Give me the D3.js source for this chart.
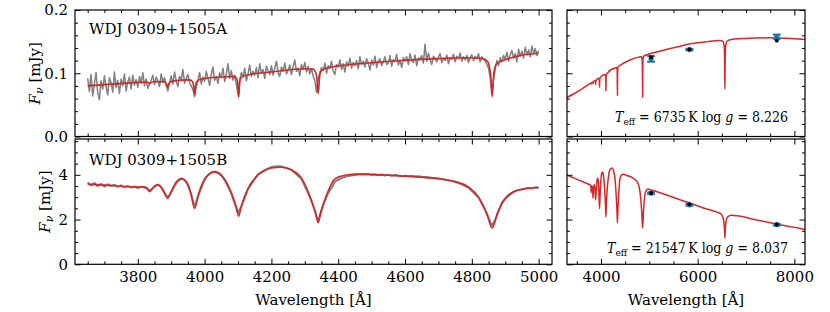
<!DOCTYPE html>
<html>
<head>
<meta charset="utf-8">
<script src="https://cdn.jsdelivr.net/npm/d3@7"></script>
<style>
  body { margin: 0; background: #fff; }
  svg, text { font-family: "DejaVu Serif", "Liberation Serif", "Noto Serif", serif; }
  text.cond { font-family: "DejaVu Serif Condensed", "DejaVu Serif", serif; }
</style>
</head>
<body>
<div id="wrapper"></div>
<script>
// ---- data ----

// observed spectrum A, 3650..5000 A in 5 A steps (mJy)
const waveStartA = 3650, waveStepA = 5
const fluxA = [
  0.092, 0.071, 0.098, 0.064, 0.083, 0.101, 0.069, 0.058, 0.088, 0.075,
  0.096, 0.079, 0.066, 0.093, 0.085, 0.070, 0.102, 0.077, 0.089, 0.068,
  0.091, 0.080, 0.099, 0.072, 0.086, 0.094, 0.075, 0.097, 0.081, 0.090,
  0.078, 0.095, 0.084, 0.101, 0.080, 0.091, 0.076, 0.083, 0.089, 0.097,
  0.082, 0.094, 0.088, 0.079, 0.099, 0.086, 0.093, 0.081, 0.072, 0.085,
  0.096, 0.083, 0.102, 0.087, 0.079, 0.095, 0.090, 0.106, 0.084, 0.092,
  0.098, 0.085, 0.080, 0.074, 0.063, 0.078, 0.088, 0.101, 0.083, 0.094,
  0.087, 0.103, 0.092, 0.081, 0.098, 0.110, 0.089, 0.095, 0.084, 0.101,
  0.093, 0.108, 0.087, 0.099, 0.115, 0.092, 0.104, 0.089, 0.097, 0.082,
  0.066, 0.090, 0.101, 0.094, 0.108, 0.088, 0.099, 0.113, 0.095, 0.103,
  0.097, 0.109, 0.093, 0.115, 0.100, 0.106, 0.092, 0.111, 0.104, 0.098,
  0.112, 0.097, 0.108, 0.119, 0.101, 0.095, 0.110, 0.103, 0.116, 0.099,
  0.105, 0.113, 0.098, 0.110, 0.121, 0.103, 0.108, 0.096, 0.114, 0.106,
  0.117, 0.102, 0.111, 0.099, 0.107, 0.096, 0.088, 0.070, 0.092, 0.101,
  0.109, 0.104, 0.116, 0.100, 0.112, 0.107, 0.119, 0.103, 0.098, 0.114,
  0.110, 0.121, 0.106, 0.115, 0.102, 0.118, 0.111, 0.124, 0.108, 0.117,
  0.112, 0.120, 0.107, 0.126, 0.114, 0.119, 0.110, 0.123, 0.116, 0.105,
  0.121, 0.113, 0.127, 0.109, 0.119, 0.123, 0.112, 0.118, 0.126, 0.114,
  0.116, 0.128, 0.111, 0.122, 0.118, 0.130, 0.113, 0.121, 0.109, 0.125,
  0.119, 0.126, 0.114, 0.131, 0.120, 0.117, 0.129, 0.112, 0.124, 0.122,
  0.128, 0.116, 0.146, 0.119, 0.132, 0.121, 0.114, 0.127, 0.123, 0.118,
  0.126, 0.131, 0.117, 0.124, 0.120, 0.129, 0.115, 0.125, 0.122, 0.130,
  0.118, 0.127, 0.123, 0.132, 0.119, 0.126, 0.121, 0.128, 0.117, 0.125,
  0.129, 0.120, 0.127, 0.123, 0.131, 0.118, 0.126, 0.122, 0.119, 0.114,
  0.108, 0.092, 0.066, 0.089, 0.107, 0.120, 0.112, 0.125, 0.118, 0.128,
  0.122, 0.133, 0.119, 0.129, 0.136, 0.124, 0.131, 0.118, 0.138, 0.127,
  0.135, 0.124, 0.141, 0.129, 0.137, 0.126, 0.143, 0.131, 0.139, 0.128,
  0.136
]

// observed spectrum B, 3650..5000 A in 10 A steps (mJy)
const waveStartB = 3650, waveStepB = 10
const fluxB = [
  3.66, 3.52, 3.63, 3.49, 3.60,
  3.47, 3.58, 3.50, 3.56, 3.46, 3.53, 3.44, 3.50, 3.43, 3.48,
  3.41, 3.47, 3.43, 3.36, 3.30, 3.48, 3.57, 3.44, 3.18, 3.00,
  3.22, 3.50, 3.71, 3.84, 3.77, 3.55, 3.13, 2.55, 3.02, 3.41,
  3.78, 3.98, 4.10, 4.15, 4.08, 3.97, 3.77, 3.47, 3.16, 2.72,
  2.30, 2.58, 2.97, 3.36, 3.58, 3.80, 4.02, 4.10, 4.19, 4.28,
  4.35, 4.37, 4.38, 4.37, 4.33, 4.28, 4.22, 4.09, 3.95, 3.82,
  3.50, 3.18, 2.82, 2.40, 1.92, 2.40, 2.83, 3.18, 3.42, 3.70,
  3.78, 3.85, 3.91, 3.94, 3.97, 3.99, 4.01, 4.03, 4.02, 4.04,
  4.00, 4.02, 3.98, 4.01, 3.97, 4.00, 3.96, 3.99, 3.97, 3.93,
  3.96, 3.94, 3.95, 3.92, 3.93, 3.91, 3.90, 3.89, 3.87, 3.86,
  3.84, 3.81, 3.78, 3.74, 3.72, 3.68, 3.63, 3.57, 3.50, 3.43,
  3.28, 3.13, 2.99, 2.71, 2.42, 2.08, 1.72, 1.98, 2.38, 2.76,
  2.93, 3.05, 3.18, 3.27, 3.32, 3.34, 3.39, 3.41, 3.39, 3.44,
  3.42
]

// best-fit model spectra [wavelength, flux]
const modelA = [
  [3650,0.0800],[3700,0.0820],[3750,0.0838],[3800,0.0855],[3825,0.0860],[3831,0.0852],
  [3835,0.0835],[3839,0.0852],[3848,0.0865],[3875,0.0868],[3883,0.0850],[3886,0.0825],
  [3889,0.0780],[3892,0.0825],[3896,0.0855],[3910,0.0880],[3955,0.0895],[3964,0.0865],
  [3967,0.0800],[3970,0.0660],[3973,0.0800],[3976,0.0865],[3990,0.0910],[4050,0.0940],
  [4090,0.0950],[4096,0.0915],[4099,0.0840],[4102,0.0620],[4105,0.0840],[4108,0.0920],
  [4120,0.0965],[4200,0.1020],[4300,0.1070],[4325,0.1065],[4332,0.1020],[4336,0.0930],
  [4340,0.0675],[4344,0.0930],[4348,0.1030],[4360,0.1075],[4400,0.1115],[4500,0.1165],
  [4600,0.1205],[4700,0.1232],[4790,0.1245],[4830,0.1235],[4848,0.1180],[4853,0.1090],
  [4857,0.0950],[4861,0.0630],[4865,0.0950],[4869,0.1090],[4876,0.1160],[4893,0.1200],
  [4950,0.1285],[5000,0.1315]
]
const modelB = [
  [3650,3.58],[3700,3.54],[3750,3.49],[3800,3.45],[3815,3.46],[3825,3.44],[3835,3.25],
  [3845,3.42],[3860,3.55],[3875,3.35],[3889,2.95],[3900,3.25],[3915,3.68],[3930,3.83],
  [3945,3.70],[3958,3.20],[3970,2.50],[3982,3.15],[4000,3.80],[4015,4.05],[4030,4.13],
  [4055,3.90],[4080,3.20],[4095,2.55],[4102,2.15],[4110,2.60],[4130,3.40],[4160,4.00],
  [4200,4.30],[4230,4.34],[4260,4.22],[4290,3.85],[4315,3.05],[4332,2.30],[4340,1.86],
  [4348,2.35],[4365,3.10],[4390,3.82],[4420,3.98],[4460,4.03],[4500,4.01],[4550,3.98],
  [4600,3.94],[4650,3.89],[4700,3.82],[4750,3.70],[4790,3.45],[4820,3.00],[4845,2.25],
  [4861,1.62],[4877,2.30],[4900,2.95],[4930,3.28],[4960,3.38],[5000,3.43]
]

// model SEDs over the wide range [wavelength, flux]
const sedA = [
  [3300,0.0620],[3450,0.0680],[3600,0.0750],[3700,0.0800],[3790,0.0843],[3797,0.0830],
  [3804,0.0846],[3828,0.0857],[3835,0.0835],[3842,0.0860],[3880,0.0884],[3886,0.0870],
  [3889,0.0820],[3892,0.0870],[3900,0.0890],[3955,0.0920],[3966,0.0895],[3970,0.0780],
  [3974,0.0895],[3985,0.0930],[4080,0.0980],[4096,0.0965],[4099,0.0900],[4102,0.0716],
  [4105,0.0900],[4110,0.0975],[4140,0.1008],[4300,0.1087],[4330,0.1090],[4336,0.1000],
  [4340,0.0650],[4344,0.1000],[4352,0.1100],[4400,0.1128],[4600,0.1210],[4780,0.1255],
  [4840,0.1262],[4852,0.1220],[4858,0.1000],[4861,0.0620],[4864,0.1000],[4870,0.1220],
  [4885,0.1270],[5050,0.1315],[5300,0.1365],[5600,0.1420],[5850,0.1465],[6200,0.1500],
  [6450,0.1518],[6520,0.1505],[6548,0.1430],[6558,0.1150],[6563,0.0750],[6568,0.1150],
  [6578,0.1430],[6610,0.1510],[6700,0.1535],[7000,0.1550],[7500,0.1560],[8000,0.1545],
  [8220,0.1535]
]
const sedB = [
  [3300,3.98],[3450,3.85],[3600,3.71],[3700,3.62],[3780,3.54],[3790,3.53],[3797,3.20],
  [3804,3.50],[3825,3.44],[3835,2.95],[3845,3.40],[3860,3.55],[3875,3.35],[3889,2.88],
  [3900,3.25],[3915,3.68],[3930,3.85],[3945,3.72],[3958,3.20],[3970,2.48],[3982,3.15],
  [4000,3.80],[4015,4.05],[4030,4.13],[4055,3.90],[4080,3.20],[4095,2.55],[4102,2.12],
  [4110,2.60],[4130,3.40],[4160,4.00],[4200,4.28],[4230,4.30],[4260,4.18],[4290,3.82],
  [4315,3.05],[4332,2.30],[4340,1.86],[4348,2.35],[4365,3.10],[4390,3.80],[4420,3.98],
  [4460,4.02],[4550,3.96],[4650,3.87],[4750,3.68],[4790,3.45],[4820,3.00],[4845,2.25],
  [4861,1.62],[4877,2.30],[4900,2.95],[4930,3.28],[4970,3.36],[5040,3.32],[5300,3.14],
  [5600,2.91],[5830,2.74],[6100,2.53],[6400,2.33],[6470,2.27],[6510,2.16],[6540,1.92],
  [6555,1.55],[6563,1.18],[6571,1.55],[6586,1.92],[6620,2.12],[6700,2.19],[6810,2.17],
  [7200,1.99],[7630,1.80],[8000,1.65],[8220,1.56]
]

// photometry: observed (blue, with errors) and synthetic (black)
const photWave = [5037, 5830, 7637]
const photObsA = [0.1227, 0.1374, 0.1578]
const photErrA = [0.0045, 0.0012, 0.0034]
const photSynA = [0.1253, 0.1374, 0.1517]
const photObsB = [3.18, 2.66, 1.77]
const photErrB = [0.04, 0.04, 0.04]
const photSynB = [3.19, 2.68, 1.78]

const nameA = "WDJ 0309+1505A"
const nameB = "WDJ 0309+1505B"
const teffA = "6735", loggA = "8.226"
const teffB = "21547", loggB = "8.037"

// ticks
const specMajor = [3800, 4000, 4200, 4400, 4600, 4800, 5000]
const sedMajor = [4000, 6000, 8000]
const fluxMajorA = [0, 0.1, 0.2]
const fluxMajorB = [0, 2, 4]

async function drawChart() {

  // 1. Dimensions
  const dimensions = {
    width: 830,
    height: 312,
    left: { x0: 75, x1: 552 },
    right: { x0: 567, x1: 805 },
    top: { y0: 136.5, y1: 10 },
    bottom: { y0: 264.3, y1: 139 },
  }

  const svg = d3.select("#wrapper")
    .append("svg")
      .attr("width", dimensions.width)
      .attr("height", dimensions.height)

  // 2. Scales
  const xSpec = d3.scaleLinear().domain([3612, 5040])
    .range([dimensions.left.x0, dimensions.left.x1])
  const xSed = d3.scaleLinear().domain([3297, 8220])
    .range([dimensions.right.x0, dimensions.right.x1])
  const yA = d3.scaleLinear().domain([0, 0.2])
    .range([dimensions.top.y0, dimensions.top.y1])
  const yB = d3.scaleLinear().domain([0, 5.6])
    .range([dimensions.bottom.y0, dimensions.bottom.y1])

  const specMinor = d3.range(3650, 5041, 50).filter(v => !specMajor.includes(v))
  const sedMinor = d3.range(3500, 8201, 500).filter(v => !sedMajor.includes(v))
  const fluxMinorA = d3.range(0, 0.2001, 0.02).filter((v, i) => i % 5 !== 0)
  const fluxMinorB = d3.range(0, 5.6, 0.5).filter((v, i) => i % 4 !== 0)

  const panels = [
    { x: xSpec, y: yA, xMaj: specMajor, xMin: specMinor, yMaj: fluxMajorA, yMin: fluxMinorA,
      xLab: false, yLab: d3.format(".1f") },
    { x: xSed, y: yA, xMaj: sedMajor, xMin: sedMinor, yMaj: fluxMajorA, yMin: fluxMinorA,
      xLab: false, yLab: null },
    { x: xSpec, y: yB, xMaj: specMajor, xMin: specMinor, yMaj: fluxMajorB, yMin: fluxMinorB,
      xLab: true, yLab: d3.format("d") },
    { x: xSed, y: yB, xMaj: sedMajor, xMin: sedMinor, yMaj: fluxMajorB, yMin: fluxMinorB,
      xLab: true, yLab: null },
  ]

  const defs = svg.append("defs")
  panels.forEach((p, i) => {
    const [x0, x1] = p.x.range(), [y0, y1] = p.y.range()
    defs.append("clipPath").attr("id", `clip${i}`)
      .append("rect").attr("x", x0).attr("y", y1).attr("width", x1 - x0).attr("height", y0 - y1)
    p.clip = `url(#clip${i})`
  })

  // 3. Draw data
  const line = (xs, ys) => d3.line().x(d => xs(d[0])).y(d => ys(d[1]))
  const gray = "#808080", red = "#d62728", blue = "#1f77b4"

  const obsA = fluxA.map((f, i) => [waveStartA + i * waveStepA, f])
  const obsB = fluxB.map((f, i) => [waveStartB + i * waveStepB, f])

  svg.append("path").attr("d", line(xSpec, yA)(obsA))
    .attr("fill", "none").attr("stroke", gray).attr("stroke-width", 1.5)
    .attr("stroke-linejoin", "round").attr("clip-path", panels[0].clip)
  svg.append("path").attr("d", line(xSpec, yA).curve(d3.curveMonotoneX)(modelA))
    .attr("fill", "none").attr("stroke", red).attr("stroke-width", 1.6)
    .attr("clip-path", panels[0].clip)

  svg.append("path").attr("d", line(xSpec, yB)(obsB))
    .attr("fill", "none").attr("stroke", gray).attr("stroke-width", 2)
    .attr("stroke-linejoin", "round").attr("clip-path", panels[2].clip)
  svg.append("path").attr("d", line(xSpec, yB).curve(d3.curveMonotoneX)(modelB))
    .attr("fill", "none").attr("stroke", red).attr("stroke-width", 1.6)
    .attr("clip-path", panels[2].clip)

  svg.append("path").attr("d", line(xSed, yA).curve(d3.curveMonotoneX)(sedA))
    .attr("fill", "none").attr("stroke", red).attr("stroke-width", 1.5)
    .attr("clip-path", panels[1].clip)
  svg.append("path").attr("d", line(xSed, yB).curve(d3.curveMonotoneX)(sedB))
    .attr("fill", "none").attr("stroke", red).attr("stroke-width", 1.5)
    .attr("clip-path", panels[3].clip)

  // photometry with error bars
  function drawPhot(ys, obs, err, syn) {
    const g = svg.append("g")
    photWave.forEach((w, i) => {
      const cx = xSed(w)
      const top = ys(obs[i] + err[i]), bot = ys(obs[i] - err[i])
      g.append("line").attr("x1", cx).attr("x2", cx).attr("y1", top).attr("y2", bot)
        .attr("stroke", blue).attr("stroke-width", 2)
      ;[top, bot].forEach(cy => g.append("line")
        .attr("x1", cx - 4).attr("x2", cx + 4).attr("y1", cy).attr("y2", cy)
        .attr("stroke", blue).attr("stroke-width", 2))
      g.append("circle").attr("cx", cx).attr("cy", ys(obs[i])).attr("r", 2.6).attr("fill", blue)
      g.append("circle").attr("cx", cx).attr("cy", ys(syn[i])).attr("r", 2).attr("fill", "#000")
    })
  }
  drawPhot(yA, photObsA, photErrA, photSynA)
  drawPhot(yB, photObsB, photErrB, photSynB)

  // 4. Axes and frames
  const styleAxis = a => {
    a.select(".domain").remove()
    a.attr("font-size", 15).attr("font-family", null)
    a.selectAll(".tick line").attr("stroke-width", 1)
    a.selectAll(".tick text").attr("fill", "#000")
  }

  panels.forEach(p => {
    const [x0, x1] = p.x.range(), [y0, y1] = p.y.range()
    const g = svg.append("g")
    const add = (gen, tf) => g.append("g").attr("transform", tf).call(gen).call(styleAxis)

    // major ticks
    add(d3.axisBottom(p.x).tickValues(p.xMaj).tickSize(-5.5).tickPadding(7)
      .tickFormat(p.xLab ? d3.format("d") : ""), `translate(0,${y0})`)
    add(d3.axisTop(p.x).tickValues(p.xMaj).tickSize(-5.5).tickFormat(""), `translate(0,${y1})`)
    add(d3.axisLeft(p.y).tickValues(p.yMaj).tickSize(-5.5).tickPadding(7)
      .tickFormat(p.yLab ? p.yLab : ""), `translate(${x0},0)`)
    add(d3.axisRight(p.y).tickValues(p.yMaj).tickSize(-5.5).tickFormat(""), `translate(${x1},0)`)
    // minor ticks
    add(d3.axisBottom(p.x).tickValues(p.xMin).tickSize(-3).tickFormat(""), `translate(0,${y0})`)
    add(d3.axisTop(p.x).tickValues(p.xMin).tickSize(-3).tickFormat(""), `translate(0,${y1})`)
    add(d3.axisLeft(p.y).tickValues(p.yMin).tickSize(-3).tickFormat(""), `translate(${x0},0)`)
    add(d3.axisRight(p.y).tickValues(p.yMin).tickSize(-3).tickFormat(""), `translate(${x1},0)`)

    g.append("rect").attr("x", x0).attr("y", y1).attr("width", x1 - x0).attr("height", y0 - y1)
      .attr("fill", "none").attr("stroke", "#000").attr("stroke-width", 1.2)
  })

  // 5. Labels
  const fs = 15

  svg.append("text").attr("x", 89).attr("y", 34).attr("font-size", fs).text(nameA)
  svg.append("text").attr("x", 89).attr("y", 165).attr("font-size", fs).text(nameB)

  function yLabel(x, y) {
    const t = svg.append("text").attr("transform", `translate(${x},${y}) rotate(-90)`)
      .attr("text-anchor", "middle").attr("font-size", fs)
    t.append("tspan").attr("font-style", "italic").text("F")
    t.append("tspan").attr("font-style", "italic").attr("font-size", 11).attr("dy", 3).text("ν")
    t.append("tspan").attr("dy", -3).text(" [mJy]")
  }
  yLabel(40, (dimensions.top.y0 + dimensions.top.y1) / 2)
  yLabel(49.5, (dimensions.bottom.y0 + dimensions.bottom.y1) / 2)

  function xLabel(cx) {
    svg.append("text").attr("x", cx).attr("y", 305).attr("text-anchor", "middle")
      .attr("font-size", fs).text("Wavelength [Å]")
  }
  xLabel((dimensions.left.x0 + dimensions.left.x1) / 2)
  xLabel((dimensions.right.x0 + dimensions.right.x1) / 2)

  function params(y, teff, logg) {
    const t = svg.append("text").attr("class", "cond")
      .attr("x", 788).attr("y", y).attr("text-anchor", "end")
      .attr("font-size", 14)
    t.append("tspan").attr("font-style", "italic").text("T")
    t.append("tspan").attr("font-size", 10).attr("dy", 3).text("eff")
    t.append("tspan").attr("dy", -3).text(` = ${teff}\u2009K log `)
    t.append("tspan").attr("font-style", "italic").text("g")
    t.append("tspan").text(` = ${logg}`)
  }
  params(122, teffA, loggA)
  params(253, teffB, loggB)
}
drawChart()
</script>
</body>
</html>
